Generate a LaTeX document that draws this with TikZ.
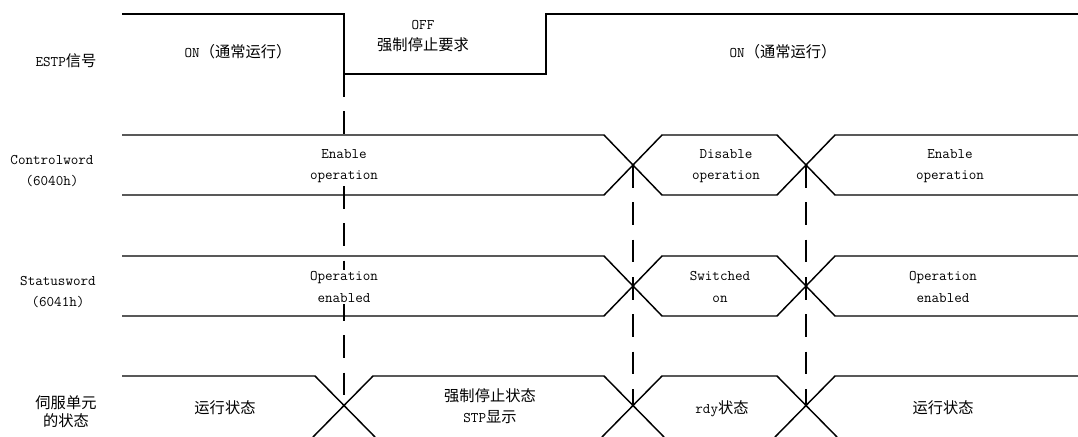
\documentclass[tikz,border=0pt]{standalone}
\usepackage{fontspec}
\newfontfamily\zhfont[Scale=1.04]{Noto Sans CJK SC}
\usetikzlibrary{positioning}

\newcommand{\zh}[1]{{\zhfont #1}}

\begin{document}
\begin{tikzpicture}[
    x=0.75pt,
    y=-0.75pt,
    font=\fontsize{11}{16}\selectfont\ttfamily,
    sig/.style={align=center, inner sep=1pt},
    state/.style={sig, fill=white},
    wave/.style={line width=1.1pt, line join=miter},
    estp/.style={line width=1.9pt, line join=miter},
    guide/.style={line width=0.9pt, dash pattern=on 17pt off 11pt}
]
\useasboundingbox (0,0) rectangle (1078,436);

% ============================================================
% SIGNAL NAMES
% ============================================================
\node[sig] (estpname) at (66,61) {ESTP\zh{信号}};
\node[sig] (cwname) at (52,171) {Controlword\\(6040h)};
\node[sig] (swname) at (58,292) {Statusword\\(6041h)};
\node[sig, font=\fontsize{11}{13.5}\selectfont\zhfont] (srvname) at (66,412) {伺服单元\\的状态};

% ============================================================
% TIMING GUIDES
% ============================================================
\draw[guide] (344,74) -- (344,407);
\draw[guide] (633,165) -- (633,407);
\draw[guide] (806,165) -- (806,407);

% ============================================================
% ESTP
% ============================================================
\draw[estp] (122,14) -- (344,14) -- (344,74) -- (546,74) -- (546,14) -- (1078,14);

\node[sig] (estpon) at (238,52) {ON\zh{（通常运行）}};
\node[sig] (estpoff) at (423,36) {OFF\\\zh{强制停止要求}};
\node[sig] (estpon2) at (783,52) {ON\zh{（通常运行）}};

% ============================================================
% CONTROLWORD
% ============================================================
\draw[wave] (122,135) -- (604,135) -- (662,195) -- (777,195) -- (835,135) -- (1078,135);
\draw[wave] (122,195) -- (604,195) -- (662,135) -- (777,135) -- (835,195) -- (1078,195);

\node[state] (cwen) at (344,166) {Enable\\operation};
\node[state] (cwdis) at (726,166) {Disable\\operation};
\node[state] (cwen2) at (950,166) {Enable\\operation};

% ============================================================
% STATUSWORD
% ============================================================
\draw[wave] (122,256) -- (604,256) -- (662,316) -- (777,316) -- (835,256) -- (1078,256);
\draw[wave] (122,316) -- (604,316) -- (662,256) -- (777,256) -- (835,316) -- (1078,316);

\node[state] (swen) at (344,287) {Operation\\enabled};
\node[state] (swon) at (720,287) {Switched\\on};
\node[state] (swen2) at (943,287) {Operation\\enabled};

% ============================================================
% SERVO STATE
% ============================================================
\draw[wave] (122,376) -- (315,376) -- (375,437);
\draw[wave] (313,437) -- (373,376) -- (604,376) -- (664,437);
\draw[wave] (602,437) -- (662,376) -- (777,376) -- (837,437);
\draw[wave] (775,437) -- (835,376) -- (1078,376);

\node[state] (srvrun) at (225,408) {\zh{运行状态}};
\node[state] (srvstp) at (490,406) {\zh{强制停止状态}\\STP\zh{显示}};
\node[state] (srvrdy) at (722,409) {rdy\zh{状态}};
\node[state] (srvrun2) at (943,408) {\zh{运行状态}};

\end{tikzpicture}
\end{document}
